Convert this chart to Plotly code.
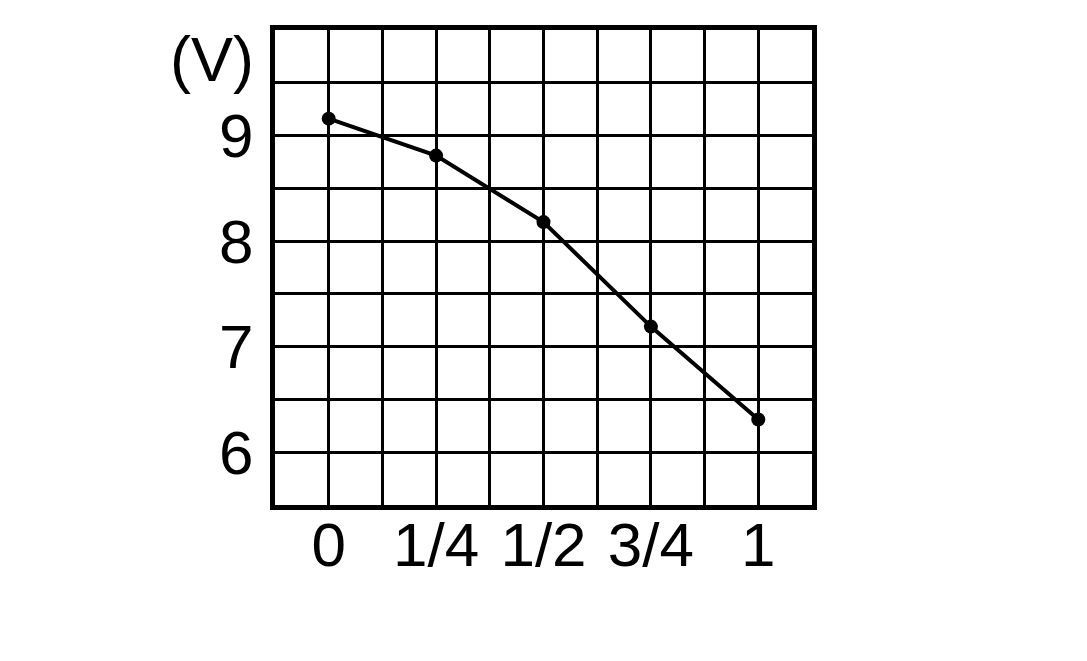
import plotly.graph_objects as go


fraction = [0, 0.25, 0.5, 0.75, 1]
voltage = [9.16, 8.81, 8.18, 7.19, 6.31]

xTickVals = [0, 0.25, 0.5, 0.75, 1]
xTickText = ["0", "1/4", "1/2", "3/4", "1"]
yTickVals = [6, 7, 8, 9]
unitLabel = "(V)"

fig = go.Figure()

fig.add_trace(go.Scatter(x=fraction, y=voltage,
                    mode='lines+markers',
                    line=dict(color='black', width=4),
                    marker=dict(color='black', size=14),
                    showlegend=False))

labelFont = dict(family="Liberation Sans", size=62, color='black')

axisStyle = dict(
    showline=True,
    linecolor='black',
    linewidth=5,
    mirror=True,
    showgrid=True,
    gridcolor='black',
    gridwidth=3,
    zeroline=False,
    ticks='',
    ticklen=0,
    tickfont=labelFont,
)

fig.update_xaxes(range=[-0.125, 1.125], tickvals=xTickVals, ticktext=xTickText,
                 minor=dict(dtick=0.125, tick0=0, showgrid=True,
                            gridcolor='black', gridwidth=3),
                 ticklabelstandoff=-18,
                 **axisStyle)
fig.update_yaxes(range=[5.5, 10], tickvals=yTickVals,
                 minor=dict(dtick=0.5, tick0=5.5, showgrid=True,
                            gridcolor='black', gridwidth=3),
                 ticklabelstandoff=4,
                 **axisStyle)

fig.add_annotation(text=unitLabel, x=-0.036, y=9.73, xref='paper', yref='y',
                   xanchor='right', yanchor='middle', showarrow=False,
                   font=dict(family="Liberation Sans", size=63, color='black'))

fig.update_layout(
    width=1087,
    height=661,
    margin=dict(l=267, r=283, t=22, b=164),
    paper_bgcolor='white',
    plot_bgcolor='white',
)

fig.write_html("out.html")
